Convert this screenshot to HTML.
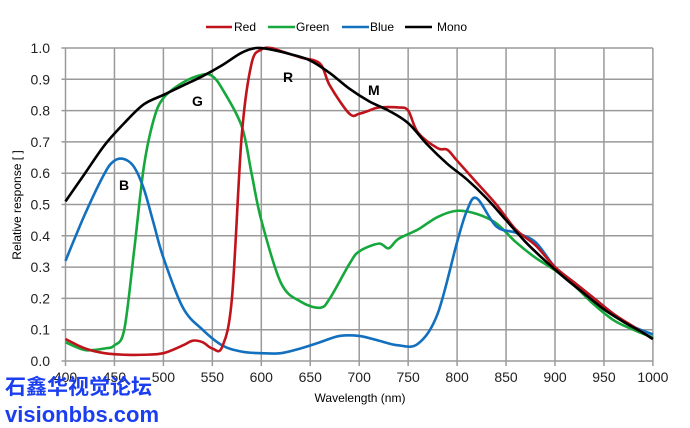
<!DOCTYPE html><html><head><style>body{margin:0;background:#fff}svg{display:block}</style></head><body>
<svg id="s" width="690" height="428" xmlns="http://www.w3.org/2000/svg" font-family="Liberation Sans, sans-serif">
<g id="grid" stroke="#9a9a9a" stroke-width="1.5"></g>
<g id="curves" fill="none" stroke-width="2.6" stroke-linejoin="round"></g>
<g font-size="12" fill="#000">
<line x1="206" y1="27" x2="232" y2="27" stroke="#c0141c" stroke-width="2.6"/><text x="234" y="31">Red</text>
<line x1="268" y1="27" x2="295" y2="27" stroke="#16a83c" stroke-width="2.6"/><text x="296" y="31">Green</text>
<line x1="342" y1="27" x2="369" y2="27" stroke="#1270be" stroke-width="2.6"/><text x="370" y="31">Blue</text>
<line x1="405" y1="27" x2="432" y2="27" stroke="#000" stroke-width="2.6"/><text x="437" y="31">Mono</text>
</g>
<g font-size="14" font-weight="bold"><text x="119" y="190">B</text><text x="192" y="106">G</text><text x="283" y="82">R</text><text x="368" y="95">M</text></g>
<text x="360" y="402" font-size="12" text-anchor="middle">Wavelength (nm)</text>
<text transform="translate(21,205) rotate(-90)" font-size="12" text-anchor="middle">Relative response [ ]</text>
<g id="lab" font-size="14" fill="#222"></g>
<text x="5" y="394" font-size="21" font-weight="bold" fill="#1a3ef0" font-family="Liberation Sans, Noto Sans CJK SC, sans-serif">石鑫华视觉论坛</text>
<text x="5" y="422" font-size="22" font-weight="bold" fill="#1a3ef0">visionbbs.com</text>
</svg>
<script>
const X=w=>65.5+(w-400)*0.979,Y=v=>361-v*313,NS="http://www.w3.org/2000/svg";
const g=document.getElementById('grid'),lab=document.getElementById('lab');
function el(p,t,a,txt){const e=document.createElementNS(NS,t);for(const k in a)e.setAttribute(k,a[k]);if(txt)e.textContent=txt;p.appendChild(e);}
for(let w=400;w<=1000;w+=50){el(g,'line',{x1:X(w),y1:Y(1),x2:X(w),y2:Y(0)+5});el(lab,'text',{x:X(w),y:382,'text-anchor':'middle'},w);}
for(let i=0;i<=10;i++){el(g,'line',{x1:X(400)-4,y1:Y(i/10),x2:X(1000),y2:Y(i/10)});el(lab,'text',{x:50,y:Y(i/10)+5,'text-anchor':'end'},(i/10).toFixed(1));}
const D={
"#16a83c":[[400,.06],[420,.035],[440,.04],[450,.05],[460,.1],[470,.35],[480,.62],[490,.77],[500,.84],[520,.89],[540,.915],[550,.91],[560,.87],[580,.75],[590,.6],[600,.45],[620,.25],[640,.19],[660,.17],[670,.2],[690,.31],[700,.35],[720,.375],[730,.36],[740,.39],[760,.42],[780,.46],[800,.48],[820,.47],[840,.44],[860,.38],[880,.33],[900,.29],[920,.24],[940,.18],[960,.13],[980,.1],[1000,.075]],
"#1270be":[[400,.32],[420,.47],[440,.6],[450,.64],[460,.645],[470,.62],[480,.55],[490,.44],[500,.33],[520,.17],[540,.1],[560,.05],[580,.03],[600,.025],[620,.025],[640,.04],[660,.06],[680,.08],[700,.08],[720,.065],[740,.05],[760,.055],[780,.15],[800,.38],[810,.48],[820,.52],[840,.43],[860,.41],[880,.38],[900,.3],[920,.25],[940,.2],[960,.15],[980,.11],[1000,.085]],
"#c0141c":[[400,.07],[420,.04],[440,.025],[460,.02],[480,.02],[500,.025],[520,.05],[530,.065],[540,.06],[550,.04],[560,.045],[570,.2],[580,.72],[590,.95],[600,.995],[610,1],[620,.99],[640,.97],[660,.95],[670,.88],[690,.79],[700,.79],[710,.8],[720,.81],[740,.81],[750,.8],[760,.73],[780,.68],[790,.675],[800,.64],[820,.57],[840,.5],[860,.42],[880,.37],[900,.3],[920,.25],[940,.2],[960,.15],[980,.11],[1000,.07]],
"#000":[[400,.51],[420,.6],[440,.69],[460,.76],[480,.82],[500,.85],[520,.88],[540,.91],[560,.945],[580,.985],[595,1],[610,.995],[630,.98],[650,.96],[670,.92],[690,.87],[710,.83],[730,.8],[750,.76],[770,.69],[790,.63],[810,.58],[830,.52],[850,.45],[870,.38],[890,.32],[910,.265],[930,.215],[950,.165],[970,.125],[990,.09],[1000,.07]]};
const c=document.getElementById('curves');
for(const col in D){const p=D[col].map(([w,v])=>[X(w),Y(v)]);let d="M"+p[0];
for(let i=0;i<p.length-1;i++){const a=p[Math.max(i-1,0)],b=p[i],e=p[i+1],f=p[Math.min(i+2,p.length-1)];
d+=` C${b[0]+(e[0]-a[0])/6},${b[1]+(e[1]-a[1])/6} ${e[0]-(f[0]-b[0])/6},${e[1]-(f[1]-b[1])/6} ${e[0]},${e[1]}`;}
el(c,'path',{d:d,stroke:col});}
</script>
</body></html>
